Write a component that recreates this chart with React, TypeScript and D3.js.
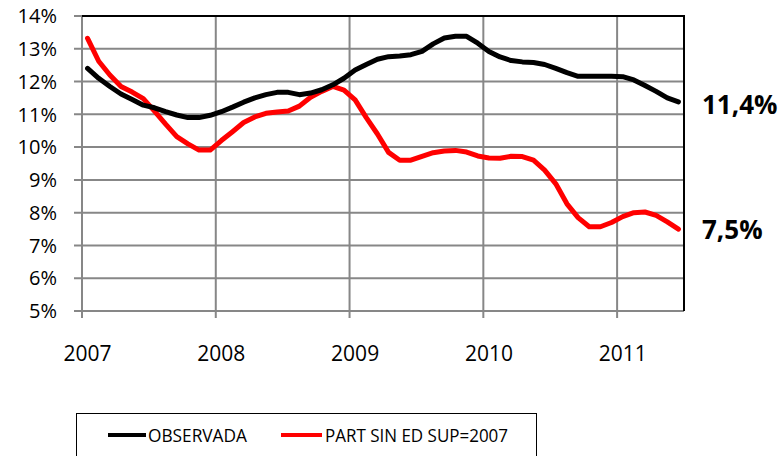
import React from "react";
import * as d3 from "d3";

const yearLabels = ["2007", "2008", "2009", "2010", "2011"];
const yTicks = [5, 6, 7, 8, 9, 10, 11, 12, 13, 14];

// Monthly, Jan 2007 – Jun 2011 (%)
const observada = [
  12.4, 12.1, 11.85, 11.62, 11.45, 11.28, 11.2, 11.08, 10.98, 10.9, 10.9, 10.97,
  11.08, 11.22, 11.37, 11.5, 11.6, 11.67, 11.67, 11.6, 11.65, 11.75, 11.9, 12.1,
  12.35, 12.52, 12.68, 12.76, 12.78, 12.82, 12.92, 13.15, 13.33, 13.38, 13.38, 13.17,
  12.92, 12.75, 12.64, 12.6, 12.58, 12.52, 12.4, 12.27, 12.16, 12.16, 12.16, 12.16,
  12.15, 12.05, 11.88, 11.7, 11.5, 11.38,
];
const partSinEdSup = [
  13.32, 12.62, 12.2, 11.85, 11.68, 11.48, 11.1, 10.7, 10.32, 10.1, 9.91, 9.91,
  10.2, 10.47, 10.75, 10.92, 11.03, 11.07, 11.1, 11.25, 11.52, 11.7, 11.85, 11.74,
  11.44, 10.9, 10.4, 9.84, 9.6, 9.6, 9.72, 9.83, 9.88, 9.9, 9.85, 9.73,
  9.67, 9.66, 9.72, 9.71, 9.6, 9.3, 8.88, 8.27, 7.85, 7.57, 7.57, 7.7,
  7.88, 8.0, 8.02, 7.92, 7.72, 7.5,
];
const seriesNames = ["OBSERVADA", "PART SIN ED SUP=2007"];
const endLabels = ["11,4%", "7,5%"];

const W = 782;
const H = 456;
const L = 82, R = 684, T = 16, B = 311;
const FONT = "'Open Sans', sans-serif";

export default function App() {
  const n = observada.length;
  const x = d3.scaleLinear().domain([0, n]).range([L, R]);
  const y = d3.scaleLinear().domain([5, 14]).range([B, T]);
  const line = d3
    .line<number>()
    .x((_, i) => x(i + 0.5))
    .y((d) => y(d));
  const grid = "#878787";

  return (
    <svg
      width={W}
      height={H}
      style={{ position: "absolute", left: 0, top: 0, background: "#fff" }}
    >
      {/* horizontal gridlines + y ticks */}
      {yTicks.map((t) => (
        <g key={t}>
          <line x1={L - 8} x2={R} y1={y(t)} y2={y(t)} stroke={grid} strokeWidth={2} />
          <text
            x={57}
            y={y(t)}
            dy="0.36em"
            textAnchor="end"
            fontFamily={FONT}
            fontSize={20}
            fill="#000"
          >
            {t}%
          </text>
        </g>
      ))}
      {/* vertical gridlines + x ticks */}
      {yearLabels.map((yl, k) => (
        <g key={yl}>
          <line x1={x(k * 12)} x2={x(k * 12)} y1={T} y2={B + 7} stroke={grid} strokeWidth={2} />
          <text
            x={x(k * 12 + 0.5)}
            y={361}
            textAnchor="middle"
            fontFamily={FONT}
            fontSize={21}
            fill="#000"
          >
            {yl}
          </text>
        </g>
      ))}
      {/* plot border top and right */}
      <line x1={L} x2={R + 1} y1={T} y2={T} stroke="#000" strokeWidth={2} />
      <line x1={R} x2={R} y1={T} y2={B} stroke="#000" strokeWidth={2} />
      {/* series */}
      <path
        d={line(partSinEdSup) || ""}
        fill="none"
        stroke="#ff0000"
        strokeWidth={5}
        strokeLinejoin="round"
        strokeLinecap="round"
      />
      <path
        d={line(observada) || ""}
        fill="none"
        stroke="#000"
        strokeWidth={5}
        strokeLinejoin="round"
        strokeLinecap="round"
      />
      {/* end labels */}
      <text x={702} y={114} fontFamily={FONT} fontWeight="bold" fontSize={26} fill="#000">
        {endLabels[0]}
      </text>
      <text x={702} y={239} fontFamily={FONT} fontWeight="bold" fontSize={26} fill="#000">
        {endLabels[1]}
      </text>
      {/* legend */}
      <rect x={76.5} y={413.5} width={460} height={60} fill="#fff" stroke="#000" strokeWidth={1} />
      <line x1={108} x2={146} y1={435} y2={435} stroke="#000" strokeWidth={4} />
      <text
        x={148}
        y={442}
        fontFamily={FONT}
        fontSize={19}
        fill="#000"
        textLength={99}
        lengthAdjust="spacingAndGlyphs"
      >
        {seriesNames[0]}
      </text>
      <line x1={281} x2={322} y1={435} y2={435} stroke="#ff0000" strokeWidth={4} />
      <text
        x={325}
        y={442}
        fontFamily={FONT}
        fontSize={19}
        fill="#000"
        textLength={183}
        lengthAdjust="spacingAndGlyphs"
      >
        {seriesNames[1]}
      </text>
    </svg>
  );
}
